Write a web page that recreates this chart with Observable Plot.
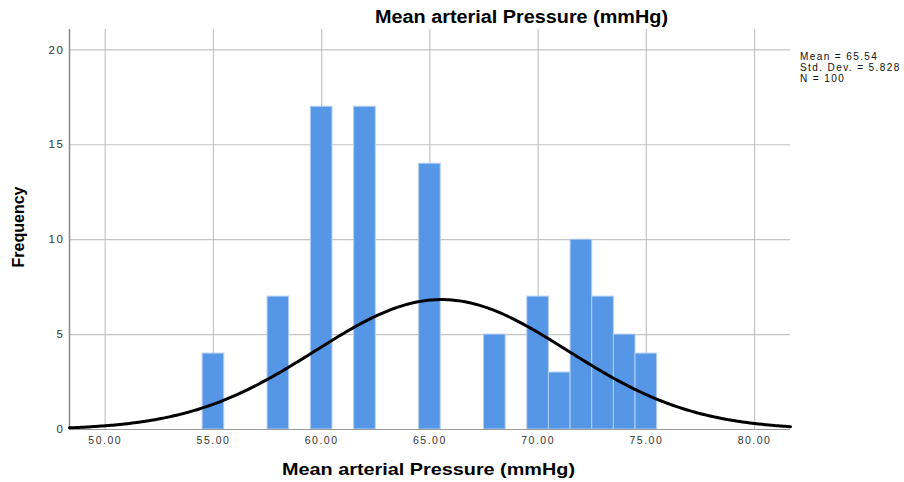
<!DOCTYPE html>
<html>
<head>
<meta charset="utf-8">
<script src="https://cdn.jsdelivr.net/npm/d3@7"></script>
<script src="https://cdn.jsdelivr.net/npm/@observablehq/plot@0.6"></script>
<style>
  html, body { margin: 0; padding: 0; background: #fff; }
  #chart { width: 904px; height: 482px; }
  svg { font-family: "Liberation Sans", Arial, sans-serif; }
</style>
</head>
<body>
<div id="chart"></div>
<script>
// Histogram bins (centre of 1-unit bin) and frequencies
const binCenters = [55, 58, 60, 62, 65, 68, 70, 71, 72, 73, 74, 75];
const frequencies = [4, 7, 17, 17, 14, 5, 7, 3, 10, 7, 5, 4];
const xTicks = [50, 55, 60, 65, 70, 75, 80];
const yTicks = [0, 5, 10, 15, 20];
const statsLines = ["Mean = 65.54", "Std. Dev. = 5.828", "N = 100"];
const meanValue = 65.54, sdValue = 5.828, nValue = 100, binWidth = 1;
const xDomain = [48.35, 81.66];
const yDomain = [0, 21.07];

const bars = binCenters.map((c, i) => ({x1: c - binWidth / 2, x2: c + binWidth / 2, y: frequencies[i]}));

// Fitted normal curve from the reported mean / SD / N
const curveXs = d3.range(0, 301).map(i => xDomain[0] + (xDomain[1] - xDomain[0]) * i / 300);
const curve = curveXs.map(x => ({
  x,
  y: nValue * binWidth * Math.exp(-0.5 * ((x - meanValue) / sdValue) ** 2) / (sdValue * Math.sqrt(2 * Math.PI))
}));

const W = 904, H = 482;
const mL = 69, mR = 114, mT = 29, mB = 53;

const plot = Plot.plot({
  width: W,
  height: H,
  marginLeft: mL,
  marginRight: mR,
  marginTop: mT,
  marginBottom: mB,
  style: {fontFamily: "'Liberation Sans', Arial, sans-serif", fontSize: "11px", background: "#fff", color: "#333"},
  x: {domain: xDomain, label: null},
  y: {domain: yDomain, label: null},
  marks: [
    Plot.gridX(xTicks, {stroke: "#c4c4c4", strokeOpacity: 1, strokeWidth: 1.2}),
    Plot.gridY(yTicks.filter(d => d > 0), {stroke: "#c4c4c4", strokeOpacity: 1, strokeWidth: 1.2}),
    Plot.rectY(bars, {x1: "x1", x2: "x2", y: "y", fill: "#5596e6", stroke: "#b3d0f3", strokeWidth: 1}),
    Plot.ruleY([0], {stroke: "#9a9a9a", strokeWidth: 1.2}),
    Plot.ruleX([xDomain[0]], {stroke: "#8a8a8a", strokeWidth: 1.5}),
    Plot.line(curve, {x: "x", y: "y", stroke: "#000", strokeWidth: 3, curve: "basis"}),
    Plot.axisX({ticks: xTicks, tickFormat: d => d.toFixed(2), tickSize: 0, tickPadding: 7, label: null,
      fill: "#333", fontSize: 10.5, className: "xt"}),
    Plot.axisY({ticks: yTicks, tickSize: 0, tickPadding: 5, label: null, fill: "#333", fontSize: 11.5, className: "yt"})
  ]
});

document.getElementById("chart").appendChild(plot);
const svg = d3.select(plot);
svg.selectAll(".xt text").attr("letter-spacing", "1.5px");
svg.selectAll(".yt text").attr("letter-spacing", "1.6px");

svg.append("text")
  .attr("x", 521.5).attr("y", 23)
  .attr("text-anchor", "middle")
  .attr("font-weight", "bold").attr("font-size", "17.5px").attr("fill", "#000")
  .attr("textLength", 293).attr("lengthAdjust", "spacingAndGlyphs")
  .text("Mean arterial Pressure (mmHg)");

svg.append("text")
  .attr("x", 428.5).attr("y", 475)
  .attr("text-anchor", "middle")
  .attr("font-weight", "bold").attr("font-size", "17px").attr("fill", "#000")
  .attr("textLength", 293).attr("lengthAdjust", "spacingAndGlyphs")
  .text("Mean arterial Pressure (mmHg)");

svg.append("text")
  .attr("transform", "translate(24,227) rotate(-90)")
  .attr("text-anchor", "middle")
  .attr("font-weight", "bold").attr("font-size", "16px").attr("fill", "#000")
  .text("Frequency");

const st = svg.append("text").attr("font-size", "10px").attr("fill", "#111")
  .attr("text-anchor", "start").attr("letter-spacing", "1.4px");
statsLines.forEach((s, i) => {
  st.append("tspan").attr("x", 800).attr("y", 60 + i * 10.8).text(s);
});
</script>
</body>
</html>
